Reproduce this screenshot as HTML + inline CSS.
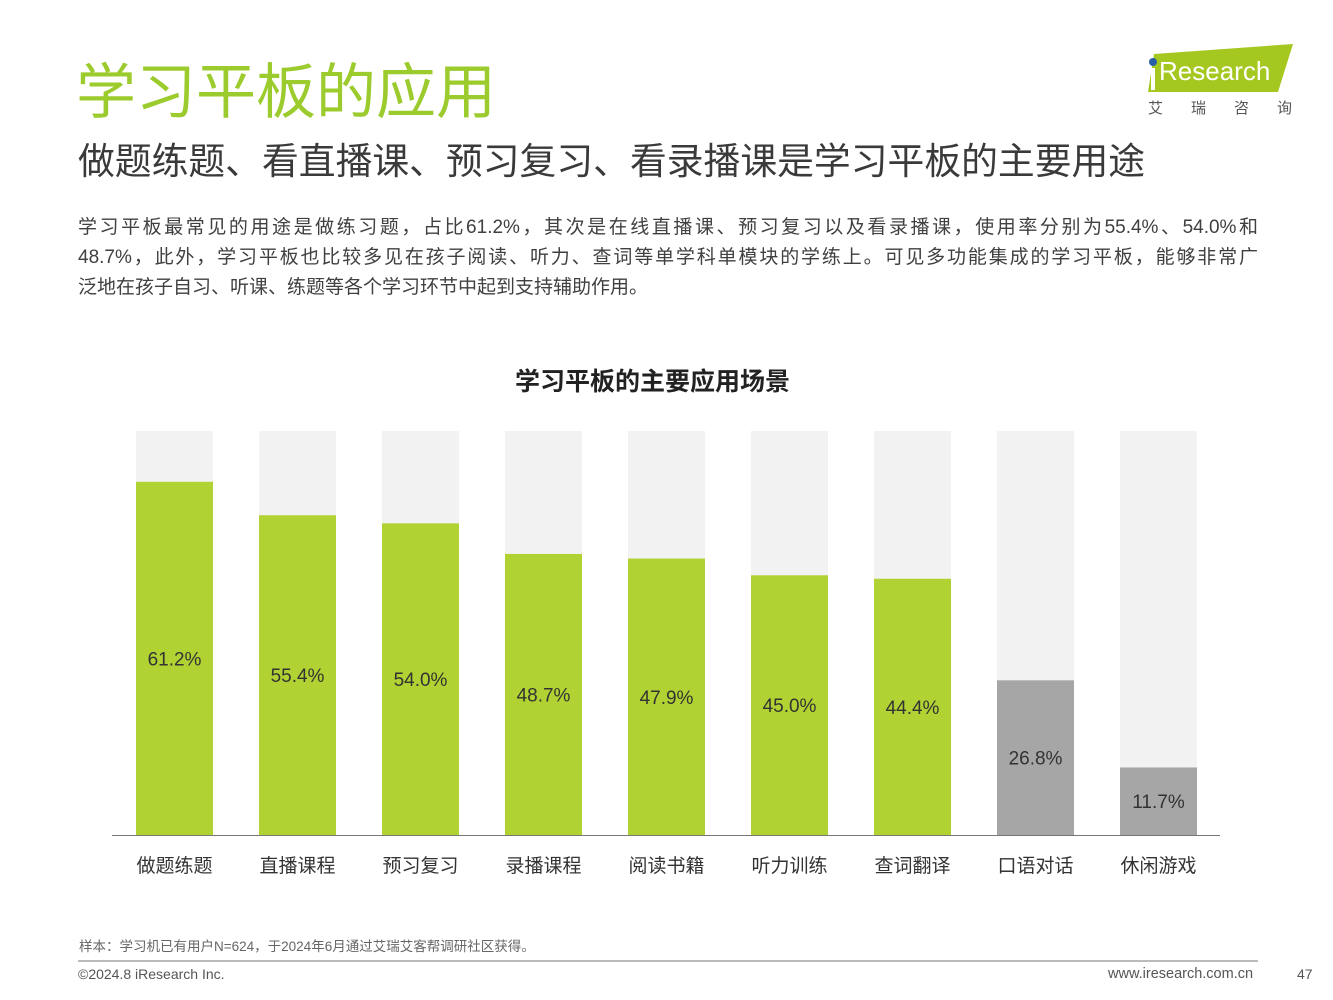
<!DOCTYPE html>
<html><head><meta charset="utf-8"><style>
body{margin:0;width:1333px;height:1000px;background:#fff;position:relative;overflow:hidden;font-family:"Liberation Sans","Noto Sans CJK SC",sans-serif;}
.abs{position:absolute;white-space:nowrap;}
.ln{width:1180px;text-align:justify;text-align-last:justify;height:30px;}
</style></head><body>
<div class="abs" style="left:76px;top:56px;font-size:60px;color:#9ccb2d;line-height:74px;">学习平板的应用</div>
<div class="abs" style="left:78px;top:139px;font-size:36.8px;color:#3a3a3a;line-height:46px;">做题练题、看直播课、预习复习、看录播课是学习平板的主要用途</div>
<div class="abs" style="left:78px;top:213px;font-size:19px;color:#404040;line-height:30px;">
<div class="ln">学习平板最常见的用途是做练习题，占比61.2%，其次是在线直播课、预习复习以及看录播课，使用率分别为55.4%、54.0%和</div>
<div class="ln">48.7%，此外，学习平板也比较多见在孩子阅读、听力、查词等单学科单模块的学练上。可见多功能集成的学习平板，能够非常广</div>
<div>泛地在孩子自习、听课、练题等各个学习环节中起到支持辅助作用。</div>
</div>
<div class="abs" style="left:1140px;top:40px;width:170px;height:80px;">
<svg width="170" height="80"><polygon points="14,14 153,4 138,52 8,52" fill="#a5c820"/><circle cx="13" cy="22" r="4" fill="#2a5fa8"/><rect x="11" y="28" width="4" height="22" fill="#fff"/><text x="19" y="40" font-size="26" fill="#fff" font-family="Liberation Sans">Research</text><text x="8" y="73" font-size="15" fill="#555" letter-spacing="28" font-family="Noto Sans CJK SC">艾瑞咨询</text></svg></div>
<div class="abs" style="left:0;width:1305px;text-align:center;top:362px;font-size:25px;font-weight:bold;color:#222;">学习平板的主要应用场景</div>
<svg id="chart" class="abs" style="left:0;top:0" width="1333" height="1000"></svg>
<div class="abs" style="left:79px;top:935px;font-size:13.5px;color:#666;">样本：学习机已有用户N=624，于2024年6月通过艾瑞艾客帮调研社区获得。</div>
<div class="abs" style="left:78px;top:960px;width:1180px;height:2px;background:#bbb;"></div>
<div class="abs" style="left:78px;top:966px;font-size:14px;color:#555;">©2024.8 iResearch Inc.</div>
<div class="abs" style="left:1108px;top:966px;font-size:14.5px;color:#555;">www.iresearch.com.cn</div>
<div class="abs" style="left:1297px;top:966px;font-size:14px;color:#555;">47</div>
<script>
const categories=["做题练题","直播课程","预习复习","录播课程","阅读书籍","听力训练","查词翻译","口语对话","休闲游戏"];
const values=[61.2,55.4,54.0,48.7,47.9,45.0,44.4,26.8,11.7];
const highlight=[1,1,1,1,1,1,1,0,0];
const NS="http://www.w3.org/2000/svg";
const svg=document.getElementById('chart');
const y0=835,maxV=70,plotH=404,x0=136,pitch=123,bw=77;
const y=v=>y0-v/maxV*plotH;
const x=i=>x0+i*pitch;
function mk(t,a){const e=document.createElementNS(NS,t);for(const k in a)e.setAttribute(k,a[k]);svg.appendChild(e);return e;}
categories.forEach((c,i)=>{
 const bg=mk('rect',{x:x(i),y:y(maxV),width:bw,height:plotH,fill:'#f2f2f2'});
 
 
 const b=mk('rect',{x:x(i),y:y(values[i]),width:bw,height:y0-y(values[i]),fill:highlight[i]?'#b0d232':'#a6a6a6'});
 
 
 const t=mk('text',{x:x(i)+bw/2,y:(y(values[i])+y0)/2+7,'text-anchor':'middle','font-size':19,fill:'#333','font-family':'Liberation Sans'});
 t.textContent=values[i].toFixed(1)+'%';
 
 
 const l=mk('text',{x:x(i)+bw/2,y:872,'text-anchor':'middle','font-size':19,fill:'#333','font-family':'Liberation Sans, Noto Sans CJK SC, sans-serif'});
 l.textContent=c;
 
 
});
const ax=mk('line',{x1:112,x2:1220,y1:y0+0.5,y2:y0+0.5,stroke:'#777','stroke-width':1});


</script>
</body></html>
